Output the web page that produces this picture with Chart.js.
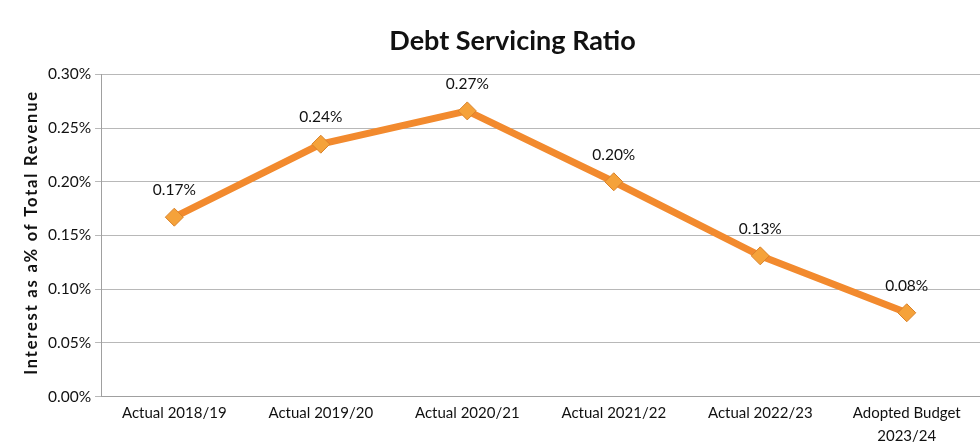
<!DOCTYPE html>
<html>
<head>
<meta charset="utf-8">
<script src="https://cdn.jsdelivr.net/npm/chart.js@4/dist/chart.umd.min.js"></script>
<style>
  html, body { margin: 0; padding: 0; background: #fff; }
  #wrap { width: 980px; height: 448px; }
</style>
</head>
<body>
<div id="wrap"><canvas id="ratioChart" width="980" height="448"></canvas></div>
<script>
// Dados do gráfico
const categorias = ['Actual 2018/19', 'Actual 2019/20', 'Actual 2020/21', 'Actual 2021/22', 'Actual 2022/23', ['Adopted Budget', '2023/24']];
const ratio = [0.167, 0.235, 0.266, 0.200, 0.131, 0.078];
const rotulos = ['0.17%', '0.24%', '0.27%', '0.20%', '0.13%', '0.08%'];
const yTicks = [0, 0.05, 0.10, 0.15, 0.20, 0.25, 0.30];
const tituloY = 'Interest as a% of Total Revenue';

const fonte = "Lato, 'Open Sans', sans-serif";

// Plugin para escrever os rótulos acima dos pontos
const rotuloPlugin = {
    id: 'rotulos',
    afterDatasetsDraw(chart) {
        const ctx = chart.ctx;
        const meta = chart.getDatasetMeta(0);
        ctx.save();
        ctx.font = "15.5px " + fonte;
        ctx.fillStyle = '#111';
        ctx.textAlign = 'center';
        ctx.textBaseline = 'middle';
        meta.data.forEach((pt, i) => {
            ctx.fillText(rotulos[i], pt.x, pt.y - 27);
        });
        ctx.restore();
    }
};

// Plugin para o título do eixo Y (com espaçamento entre letras)
const tituloYPlugin = {
    id: 'tituloY',
    afterDraw(chart) {
        const a = chart.chartArea;
        const ctx = chart.ctx;
        ctx.save();
        ctx.translate(32, (a.top + a.bottom) / 2 - 3);
        ctx.rotate(-Math.PI / 2);
        ctx.font = "bold 16.5px " + fonte;
        ctx.letterSpacing = '1.8px';
        ctx.fillStyle = '#111';
        ctx.textAlign = 'center';
        ctx.textBaseline = 'middle';
        ctx.fillText(tituloY, 0, 0);
        ctx.restore();
    }
};

const ctx = document.getElementById('ratioChart').getContext('2d');
const ratioChart = new Chart(ctx, {
    type: 'line',
    data: {
        labels: categorias,
        datasets: [{
            label: 'Debt Servicing Ratio',
            data: ratio,
            borderColor: '#f28a2e',
            borderWidth: 7,
            pointStyle: 'rectRot',
            pointRadius: 9,
            pointBackgroundColor: '#f5a23a',
            pointBorderColor: '#d9822b',
            pointBorderWidth: 1,
            tension: 0
        }]
    },
    options: {
        responsive: false,
        animation: false,
        layout: { autoPadding: false, padding: { left: 44, right: -1, top: 0, bottom: -5 } },
        plugins: {
            legend: { display: false },
            tooltip: { enabled: false },
            title: {
                display: true,
                text: 'Debt Servicing Ratio',
                color: '#111',
                font: { family: fonte, size: 27, weight: 'bold' },
                padding: { top: 25, bottom: 17 }
            }
        },
        scales: {
            x: {
                offset: true,
                grid: { display: false, drawTicks: false },
                border: { color: '#a0a0a0' },
                ticks: {
                    color: '#111',
                    font: { family: fonte, size: 15, lineHeight: 1.55 },
                    maxRotation: 0,
                    padding: 5
                }
            },
            y: {
                min: 0,
                max: 0.30,
                afterBuildTicks(axis) {
                    axis.ticks = yTicks.map(v => ({ value: v }));
                },
                grid: { color: '#b8b8b8', lineWidth: 1, tickLength: 6 },
                border: { color: '#a0a0a0' },
                ticks: {
                    color: '#111',
                    font: { family: fonte, size: 15.5 },
                    padding: 4,
                    callback: v => v.toFixed(2) + '%'
                }
            }
        }
    },
    plugins: [rotuloPlugin, tituloYPlugin]
});
</script>
</body>
</html>
